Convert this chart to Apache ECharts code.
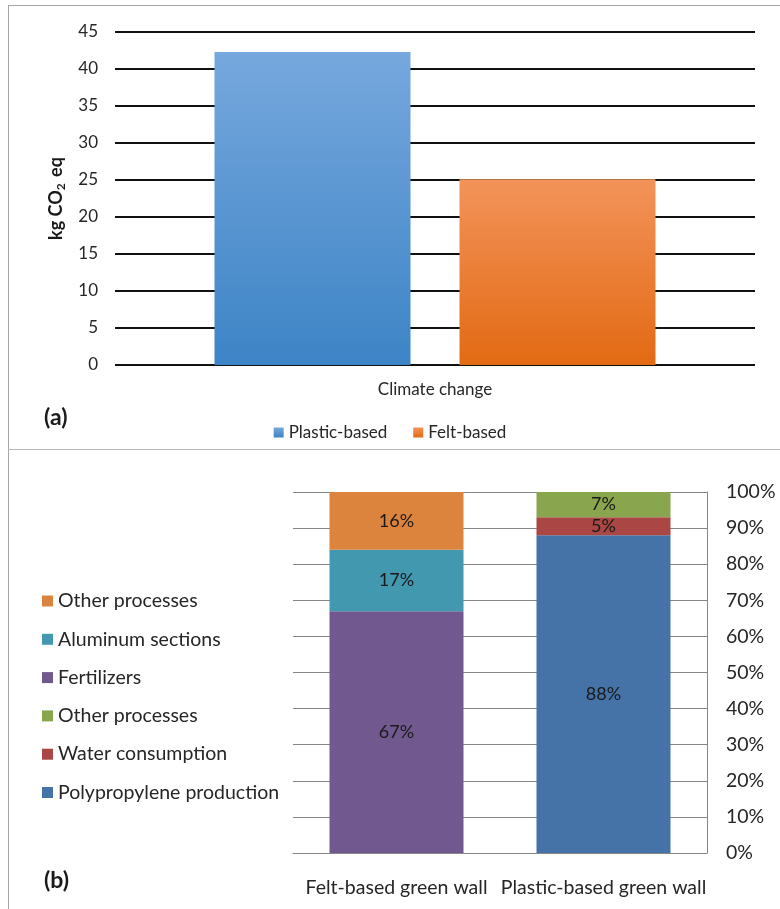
<!DOCTYPE html>
<html>
<head>
<meta charset="utf-8">
<script src="https://cdn.jsdelivr.net/npm/echarts@6/dist/echarts.min.js"></script>
<style>
html,body{margin:0;padding:0;background:#fff;}
#chart{width:780px;height:909px;}
</style>
</head>
<body>
<div id="chart"></div>
<script>
// ---- Panel (a) data ----
var aCategories = ['Climate change'];
var aSeriesNames = ['Plastic-based', 'Felt-based'];
var aPlastic = [42.3];
var aFelt = [25.1];
var aTicks = { min: 0, max: 45, interval: 5 };

// ---- Panel (b) data ----
var bCategories = ['Felt-based green wall', 'Plastic-based green wall'];
var bPolypropylene = [0, 88];
var bWater = [0, 5];
var bOtherPlastic = [0, 7];
var bFertilizers = [67, 0];
var bAluminum = [17, 0];
var bOtherFelt = [16, 0];
var bTicks = { min: 0, max: 100, interval: 10 };
var bLegendOrder = ['Other processes (felt)', 'Aluminum sections', 'Fertilizers', 'Other processes (plastic)', 'Water consumption', 'Polypropylene production'];
var bLegendLabels = {
  'Other processes (felt)': 'Other processes',
  'Aluminum sections': 'Aluminum sections',
  'Fertilizers': 'Fertilizers',
  'Other processes (plastic)': 'Other processes',
  'Water consumption': 'Water consumption',
  'Polypropylene production': 'Polypropylene production'
};

var FONT = 'Lato';
var BF = 19.5;
var chart = echarts.init(document.getElementById('chart'));

function grad(top, bottom) {
  return { type: 'linear', x: 0, y: 0, x2: 0, y2: 1, colorStops: [{ offset: 0, color: top }, { offset: 1, color: bottom }] };
}
function pctLabel() {
  return {
    show: true, position: 'inside', fontFamily: FONT, fontSize: 18, color: '#1a1a1a',
    formatter: function (p) { return p.value > 0 ? p.value + '%' : ''; }
  };
}
function bSeries(name, data, color) {
  return {
    name: name, type: 'bar', stack: 'b', xAxisIndex: 1, yAxisIndex: 1,
    data: data, barWidth: 134, itemStyle: { color: color }, label: pctLabel()
  };
}

var option = {
  animation: false,
  textStyle: { fontFamily: FONT },
  graphic: [
    { type: 'line', shape: { x1: 8, y1: 5.5, x2: 780, y2: 5.5 }, style: { stroke: '#a6a6a6', lineWidth: 1 } },
    { type: 'line', shape: { x1: 8.5, y1: 5, x2: 8.5, y2: 909 }, style: { stroke: '#a6a6a6', lineWidth: 1 } },
    { type: 'line', shape: { x1: 8, y1: 449.5, x2: 780, y2: 449.5 }, style: { stroke: '#b8b8b8', lineWidth: 1 } },
    { type: 'text', left: 44, top: 406, style: { text: '(a)', font: 'bold 23px ' + FONT, fill: '#1a1a1a' } },
    { type: 'text', left: 44, top: 869, style: { text: '(b)', font: 'bold 23px ' + FONT, fill: '#1a1a1a' } }
  ],
  legend: [
    {
      data: aSeriesNames, left: 'center', top: 419, itemWidth: 10, itemHeight: 10, itemGap: 26,
      icon: 'rect',
      textStyle: { fontFamily: FONT, fontSize: 17, color: '#262626' }
    },
    {
      data: bLegendOrder, orient: 'vertical', left: 37, top: 586, itemWidth: 11, itemHeight: 11, itemGap: 18.3,
      icon: 'rect',
      formatter: function (n) { return bLegendLabels[n]; },
      textStyle: { fontFamily: FONT, fontSize: BF, color: '#262626' }
    }
  ],
  grid: [
    { left: 115, right: 25, top: 32, bottom: 544 },
    { left: 293, right: 73, top: 492, bottom: 56 }
  ],
  xAxis: [
    {
      type: 'category', gridIndex: 0, data: aCategories,
      axisLine: { show: false }, axisTick: { show: false },
      axisLabel: { fontFamily: FONT, fontSize: 17, color: '#262626', margin: 16 }
    },
    {
      type: 'category', gridIndex: 1, data: bCategories,
      axisLine: { show: true, lineStyle: { color: '#868686', width: 1 } }, axisTick: { show: false },
      axisLabel: { fontFamily: FONT, fontSize: BF, color: '#262626', margin: 25, interval: 0 }
    }
  ],
  yAxis: [
    {
      type: 'value', gridIndex: 0, min: aTicks.min, max: aTicks.max, interval: aTicks.interval,
      axisLine: { show: false }, axisTick: { show: false },
      splitLine: { lineStyle: { color: '#111', width: 2 } },
      axisLabel: { fontFamily: FONT, fontSize: 17, color: '#262626', margin: 17 },
      name: 'kg CO{sub|2} eq', nameLocation: 'middle', nameRotate: 90, nameGap: 48,
      nameTextStyle: {
        fontFamily: FONT, fontSize: 18, fontWeight: 'bold', color: '#1a1a1a',
        rich: { sub: { fontFamily: FONT, fontSize: 12, fontWeight: 'bold', color: '#1a1a1a', padding: [9, 2, 0, 0] } }
      }
    },
    {
      type: 'value', gridIndex: 1, position: 'right', min: bTicks.min, max: bTicks.max, interval: bTicks.interval,
      axisLine: { show: true, lineStyle: { color: '#868686', width: 1 } }, axisTick: { show: false },
      splitLine: { lineStyle: { color: '#868686', width: 1 } },
      axisLabel: { fontFamily: FONT, fontSize: BF, color: '#262626', margin: 19, formatter: '{value}%' }
    }
  ],
  series: [
    {
      name: aSeriesNames[0], type: 'bar', xAxisIndex: 0, yAxisIndex: 0, data: aPlastic,
      barWidth: 196, barGap: '25%',
      itemStyle: { color: grad('#76a8dd', '#3d84c6') }
    },
    {
      name: aSeriesNames[1], type: 'bar', xAxisIndex: 0, yAxisIndex: 0, data: aFelt,
      barWidth: 196, barGap: '25%',
      itemStyle: { color: grad('#f3935a', '#e26a13') }
    },
    bSeries('Polypropylene production', bPolypropylene, '#4572a7'),
    bSeries('Water consumption', bWater, '#aa4644'),
    bSeries('Other processes (plastic)', bOtherPlastic, '#89a54e'),
    bSeries('Fertilizers', bFertilizers, '#71588f'),
    bSeries('Aluminum sections', bAluminum, '#4198af'),
    bSeries('Other processes (felt)', bOtherFelt, '#dc843d')
  ]
};
chart.setOption(option);
</script>
</body>
</html>
